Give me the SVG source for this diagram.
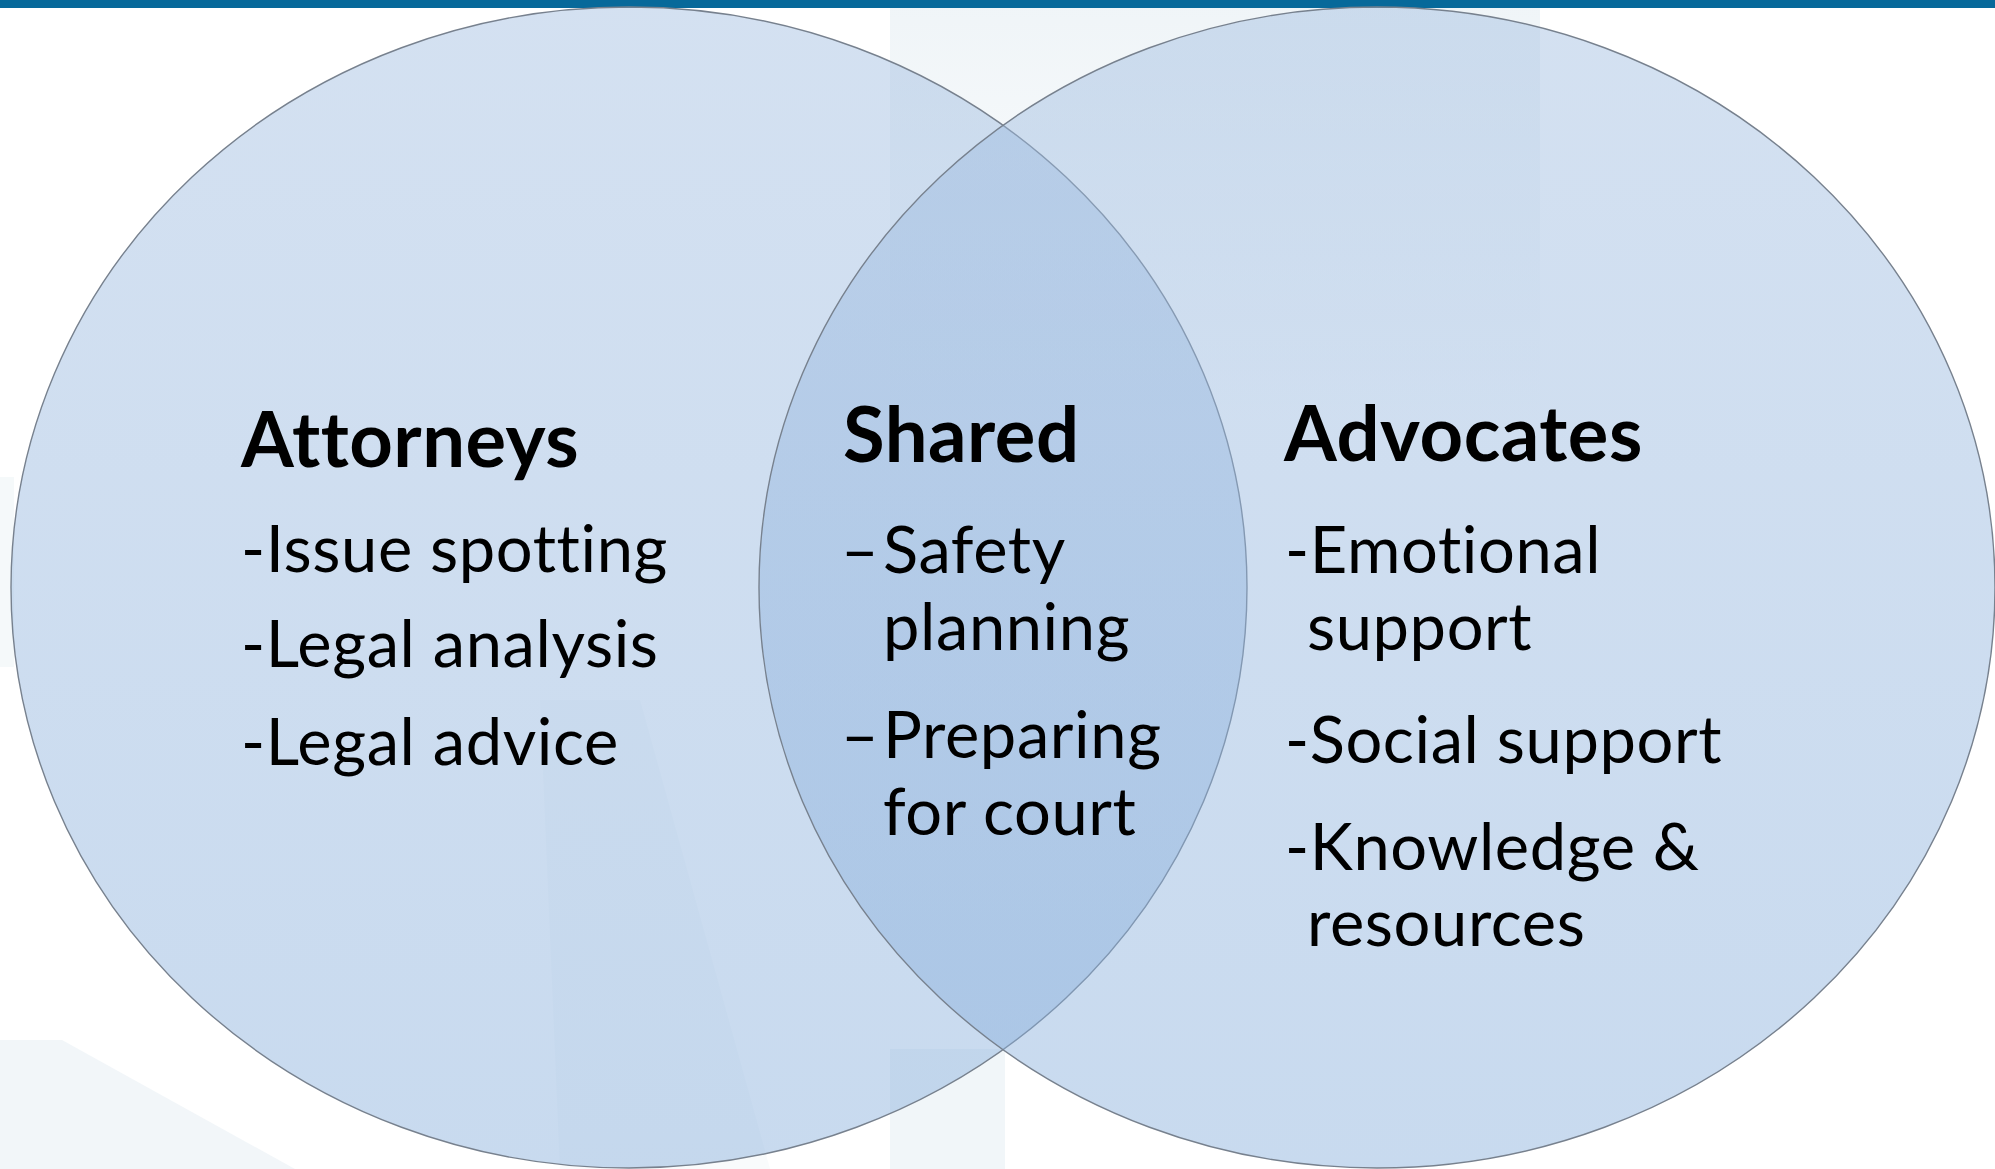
<svg xmlns="http://www.w3.org/2000/svg" width="1995" height="1169" viewBox="0 0 1995 1169">
  <style>
    .ring { stroke: #77818e; stroke-width: 1.4; fill: url(#ringFill); fill-opacity: 0.45; }
    .head { font-family: Lato, "Noto Sans", sans-serif; font-weight: 700; font-size: 76px; letter-spacing: 0.5px; fill: #000; }
    .item { font-family: Lato, "Noto Sans", sans-serif; font-weight: 400; font-size: 65px; letter-spacing: 0.6px; fill: #000; }
    .haze { fill: #edf3f7; }
  </style>
  <defs>
    <linearGradient id="ringFill" x1="0" y1="0" x2="0" y2="1">
      <stop offset="0" stop-color="#9fbce0"/>
      <stop offset="1" stop-color="#85addb"/>
    </linearGradient>
    <linearGradient id="topHaze" x1="0" y1="0" x2="0" y2="1">
      <stop offset="0" stop-color="#eaf1f5" stop-opacity="1"/>
      <stop offset="1" stop-color="#eaf1f5" stop-opacity="0"/>
    </linearGradient>
  </defs>

  <!-- page background -->
  <rect x="0" y="0" width="1995" height="1169" fill="#ffffff"/>

  <!-- faint background artwork -->
  <g id="backdrop" opacity="0.75">
    <rect x="890" y="0" width="650" height="420" fill="url(#topHaze)"/>
    <polygon class="haze" points="0,1040 62,1040 295,1169 0,1169"/>
    <rect class="haze" x="890" y="1049" width="115" height="120"/>
    <rect class="haze" x="0" y="477" width="14" height="190" opacity="0.7"/>
    <polygon class="haze" points="540,700 640,700 770,1169 560,1169" opacity="0.45"/>
  </g>

  <!-- header rule -->
  <rect x="0" y="0" width="1995" height="8" fill="#07699a"/>

  <!-- connectors (none in this diagram) -->
  <g id="connectors"/>

  <!-- left set -->
  <g id="attorneys">
    <ellipse class="ring" cx="629" cy="587.5" rx="618" ry="580.5"/>
  </g>

  <!-- right set -->
  <g id="advocates">
    <ellipse class="ring" cx="1377" cy="587.5" rx="618" ry="580.5"/>
  </g>

  <!-- labels -->
  <g id="attorneys-text">
    <text class="head" x="241" y="467">Attorneys</text>
    <text class="item" x="241" y="572">-Issue spotting</text>
    <text class="item" x="241" y="667">-Legal analysis</text>
    <text class="item" x="241" y="765">-Legal advice</text>
  </g>

  <g id="shared">
    <text class="head" x="843" y="462">Shared</text>
    <text class="item" x="841" y="573">–</text>
    <text class="item" x="883" y="573">Safety</text>
    <text class="item" x="883" y="650">planning</text>
    <text class="item" x="841" y="758">–</text>
    <text class="item" x="883" y="758">Preparing</text>
    <text class="item" x="883" y="835">for court</text>
  </g>

  <g id="advocates-text">
    <text class="head" x="1284" y="461">Advocates</text>
    <text class="item" x="1285" y="573">-Emotional</text>
    <text class="item" x="1307" y="650">support</text>
    <text class="item" x="1285" y="763">-Social support</text>
    <text class="item" x="1285" y="870">-Knowledge &amp;</text>
    <text class="item" x="1307" y="946">resources</text>
  </g>
</svg>
